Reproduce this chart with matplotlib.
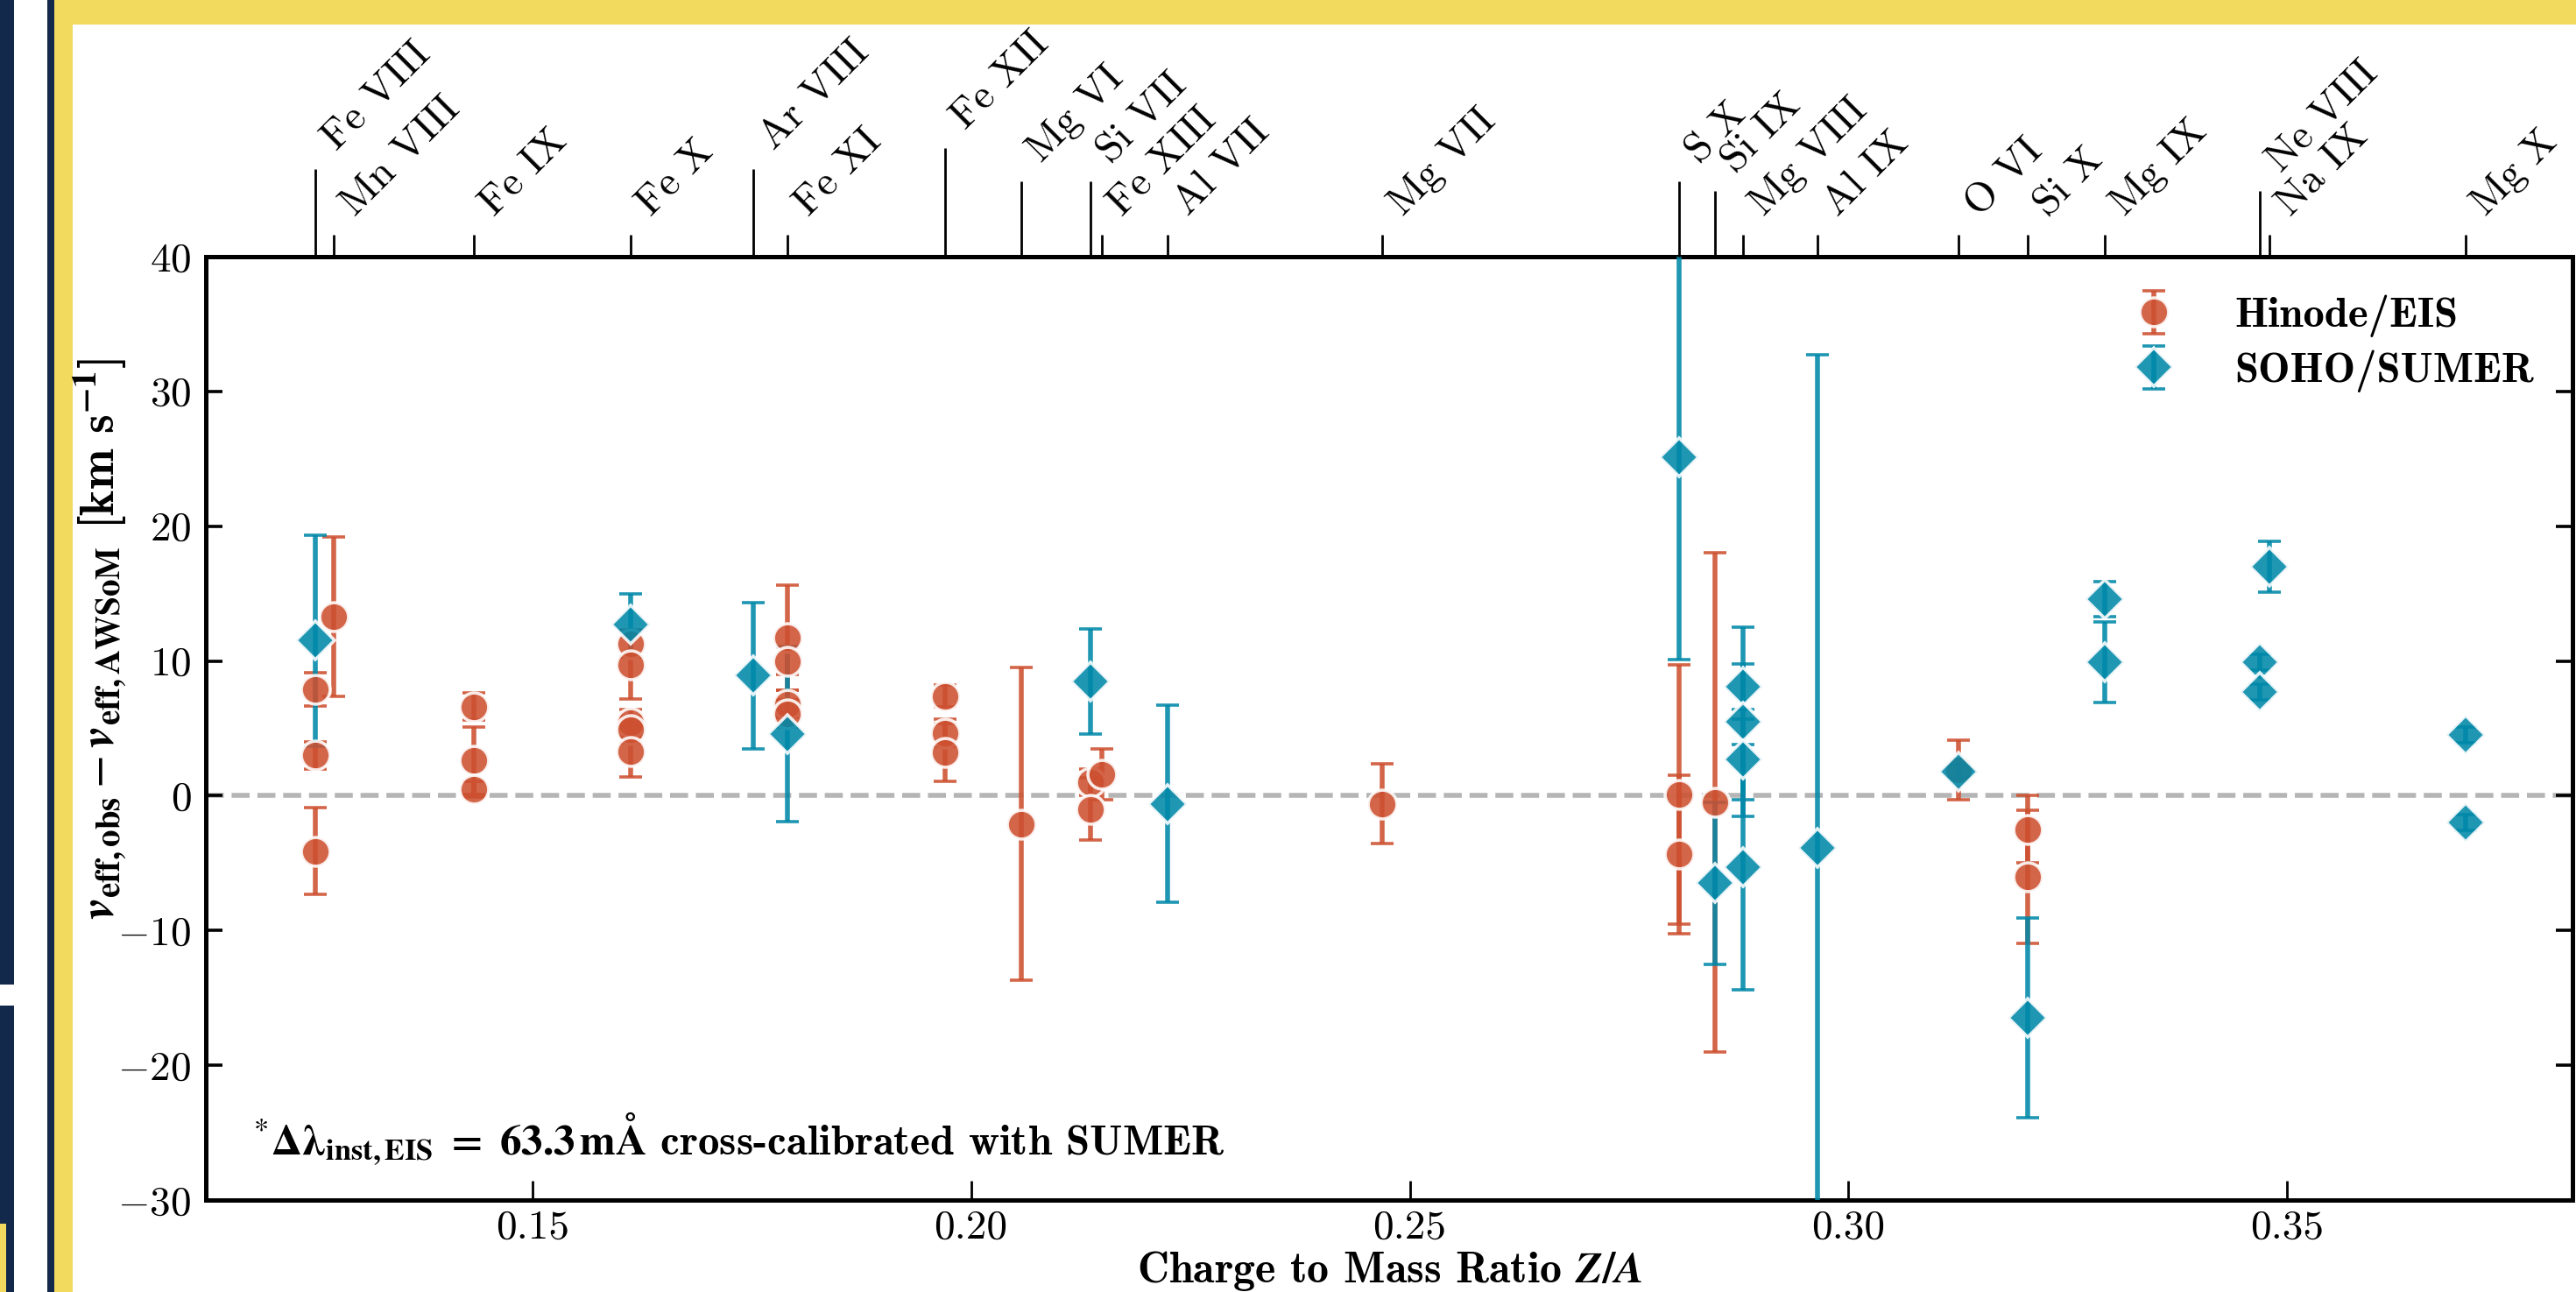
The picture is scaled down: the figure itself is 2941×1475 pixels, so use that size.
import matplotlib
matplotlib.use("Agg")
import matplotlib.pyplot as plt
from matplotlib.patches import Rectangle

# ---------------- data ----------------
ion_labels = ["Fe VIII", "Mn VIII", "Fe IX", "Fe X", "Ar VIII", "Fe XI", "Fe XII",
              "Mg VI", "Si VII", "Fe XIII", "Al VII", "Mg VII", "S X", "Si IX",
              "Mg VIII", "Al IX", "O VI", "Si X", "Mg IX", "Ne VIII", "Na IX", "Mg X"]
ion_za = [0.1253, 0.1274, 0.1433, 0.1612, 0.1752, 0.1791, 0.1970,
          0.2057, 0.2136, 0.2149, 0.2224, 0.2469, 0.2807, 0.2848,
          0.2880, 0.2965, 0.3125, 0.3204, 0.3292, 0.3469, 0.3480, 0.3703]

eis_za = [0.1253, 0.1253, 0.1253, 0.1274,
          0.1433, 0.1433, 0.1433,
          0.1612, 0.1612, 0.1612, 0.1612, 0.1612,
          0.1791, 0.1791, 0.1791, 0.1791,
          0.1970, 0.1970, 0.1970,
          0.2057, 0.2136, 0.2136, 0.2149, 0.2469,
          0.2807, 0.2807, 0.2848, 0.3125, 0.3204, 0.3204]
eis_dv = [7.9, 3.0, -4.1, 13.3,
          6.6, 2.6, 0.5,
          11.3, 9.7, 5.4, 4.9, 3.3,
          11.7, 10.0, 6.8, 6.1,
          7.4, 4.65, 3.2,
          -2.1, 1.0, -1.0, 1.6, -0.6,
          0.1, -4.35, -0.5, 1.9, -2.5, -6.0]
eis_err = [1.25, 1.0, 3.2, 5.9,
           1.0, 2.5, 0.6,
           1.0, 2.5, 1.0, 1.0, 1.9,
           3.9, 1.0, 1.0, 1.0,
           0.8, 1.0, 2.15,
           11.6, 1.0, 2.3, 1.9, 2.95,
           9.6, 5.9, 18.5, 2.2, 2.5, 4.95]

sumer_za = [0.1253, 0.1612, 0.1752, 0.1791, 0.2136, 0.2224, 0.2807, 0.2848,
            0.2880, 0.2880, 0.2880, 0.2880, 0.2965, 0.3125, 0.3204,
            0.3292, 0.3292, 0.3469, 0.3469, 0.3480, 0.3703, 0.3703]
sumer_dv = [11.5, 12.7, 8.9, 4.6, 8.5, -0.6, 25.1, -6.5,
            8.1, 5.5, 2.7, -5.3, -3.9, 1.8, -16.5,
            14.6, 9.9, 9.9, 7.7, 17.0, 4.5, -2.0]
sumer_err = [7.8, 2.3, 5.4, 6.5, 3.9, 7.3, 15.0, 6.0,
             1.7, 7.0, 3.0, 9.1, 36.6, 0.5, 7.4,
             1.3, 3.0, 0.6, 0.6, 1.9, 0.6, 0.6]

y_ticks = [-30, -20, -10, 0, 10, 20, 30, 40]
x_ticks = [0.15, 0.20, 0.25, 0.30, 0.35]
x_ticklabels = ["0.15", "0.20", "0.25", "0.30", "0.35"]

# top-axis tick lengths (points) used to stagger the ion labels
ion_tick_len = [36, 9, 9, 9, 36, 9, 44.6, 31, 31, 9, 9, 9, 31, 27,
                9, 9, 9, 9, 9, 27, 9, 9]

# ---------------- style ----------------
plt.rcParams.update({
    "font.family": "serif",
    "font.serif": ["cmr10"],
    "mathtext.fontset": "cm",
    "axes.formatter.use_mathtext": True,
    "font.size": 17,
})

RED = "#cd5030"
TEAL = "#0088a8"
NAVY = "#13294b"
YELLOW = "#f2da5f"

W, H, DPI = 2941, 1475, 200
fig = plt.figure(figsize=(W / DPI, H / DPI), dpi=DPI)

# slide decorations
def rect(x0, y0, x1, y1, c):
    fig.add_artist(Rectangle((x0 / W, 1 - y1 / H), (x1 - x0) / W, (y1 - y0) / H,
                             transform=fig.transFigure, color=c, lw=0, zorder=-5))

rect(0, 0, 16, 1124, NAVY)
rect(0, 1148, 16, H, NAVY)
rect(0, 1397, 7, H, YELLOW)
rect(54, 0, 62, H, NAVY)
rect(62, 0, 83, H, YELLOW)
rect(62, 0, W, 28, YELLOW)

ax = fig.add_axes([235 / W, 1 - 1370 / H, (2937 - 235) / W, (1370 - 293) / H])

ax.axhline(0, color="#b5b5b5", lw=2.0, ls="--", zorder=0)

common = dict(mec="white", mew=1.3, elinewidth=2.0, capsize=4.8, capthick=2.0, alpha=0.88)
ax.errorbar(eis_za, eis_dv, yerr=eis_err, fmt="o", ms=11.8, color=RED, label="Hinode/EIS",
            zorder=3, **common)
ax.errorbar(sumer_za, sumer_dv, yerr=sumer_err, fmt="D", ms=11.2, color=TEAL, label="SOHO/SUMER",
            zorder=3, **common)

xmin = min(ion_za) - 0.0125
xmax = max(ion_za) + 0.0122
ax.set_xlim(xmin, xmax)
ax.set_ylim(-30, 40)
ax.set_yticks(y_ticks)
ax.set_xticks(x_ticks)
ax.set_xticklabels(x_ticklabels)
ax.tick_params(axis="x", direction="in", length=8, width=1.0, top=False, pad=4)
ax.tick_params(axis="y", direction="in", length=7, width=1.3, right=True, pad=6)
for s in ax.spines.values():
    s.set_linewidth(1.8)

ax.set_xlabel(r"Charge to Mass Ratio $\boldsymbol{Z/A}$", family="cmb10", fontsize=18,
              labelpad=1, math_fontfamily="stix")
ax.set_ylabel(r"$\boldsymbol{v}_{\mathbf{eff,obs}} - \boldsymbol{v}_{\mathbf{eff,AWSoM}}$ [km s$^{\mathbf{-1}}$]",
              family="cmb10", fontsize=20, math_fontfamily="stix")
ax.yaxis.set_label_coords(-0.033, 0.595)
ax.yaxis.label.set_va("bottom")

ax.text(0.02, 0.048,
        r"$^{*}\boldsymbol{\Delta\lambda}_{\mathbf{inst,EIS}}\ \mathbf{=\ 63.3\,m\AA}$ cross-calibrated with SUMER",
        transform=ax.transAxes, family="cmb10", fontsize=17.6, va="baseline", ha="left",
        math_fontfamily="stix")

leg = ax.legend(loc="upper right", frameon=False, prop={"family": "cmb10", "size": 17.5},
                handletextpad=0.9, borderaxespad=0.5, labelspacing=0.3)

# top axis with ion labels
ax2 = ax.twiny()
ax2.set_xlim(xmin, xmax)
ax2.set_xticks(ion_za)
ax2.set_xticklabels(ion_labels)
ax2.tick_params(axis="x", direction="out", width=1.0, pad=5, bottom=False, top=True)
for s in ax2.spines.values():
    s.set_visible(False)
ticks = ax2.xaxis.get_major_ticks()
for t, L in zip(ticks, ion_tick_len):
    t._apply_params(size=L)
for lab in ax2.get_xticklabels():
    lab.set_rotation(45)
    lab.set_ha("left")
    lab.set_va("bottom")
    lab.set_rotation_mode("default")
    lab.set_fontsize(17)

fig.savefig("out.png", dpi=DPI, facecolor="white")
